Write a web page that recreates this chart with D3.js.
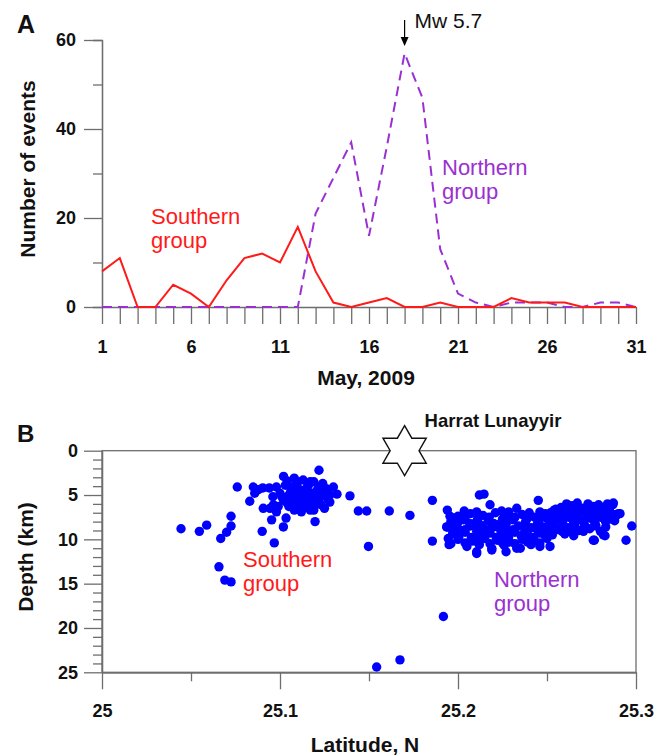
<!DOCTYPE html>
<html>
<head>
<meta charset="utf-8">
<script src="https://cdn.jsdelivr.net/npm/d3@7/dist/d3.min.js"></script>
<style>
  html, body { margin: 0; padding: 0; background: #fff; }
  svg text { font-family: "Liberation Sans", Arial, sans-serif; }
</style>
</head>
<body>
<svg id="fig" width="667" height="756"></svg>
<script>
// ---- Panel A: daily event counts, May 2009 ----
const days = d3.range(1, 32);
const southernCounts = [8, 11, 0, 0, 5, 3, 0, 6, 11, 12, 10, 18, 8, 1, 0, 1, 2, 0, 0, 1, 0, 0, 0, 2, 1, 1, 1, 0, 0, 0, 0];
const northernCounts = [0, 0, 0, 0, 0, 0, 0, 0, 0, 0, 0, 0, 21, 29, 37, 16, 36, 57, 47, 13, 3, 1, 0, 1, 1, 1, 0, 0, 1, 1, 0];
const countTicksMajor = [0, 20, 40, 60];
const countTicksMinor = [10, 30, 50];
const dayTickLabels = [1, 6, 11, 16, 21, 26, 31];
const mainShockDay = 18;
const mainShockLabel = "Mw 5.7";

// ---- Panel B: hypocentre latitude vs depth ----
const latTicksMajor = [25, 25.1, 25.2, 25.3];
const latTicksMinor = [25.05, 25.15, 25.25];
const depthTicksMajor = [0, 5, 10, 15, 20, 25];
const depthTicksMinor = d3.range(0, 26).filter(d => d % 5 !== 0);
const volcano = { lat: 25.17, depth: 0, name: "Harrat Lunayyir" };

// southern swarm (lat, depth km)
const southQuakes = [
  [25.0444, 8.8], [25.0547, 9.1], [25.0588, 8.4], [25.0725, 7.4], [25.0725, 8.5], [25.070, 9.2],
  [25.0667, 9.9], [25.0657, 13.1], [25.069, 14.6], [25.0725, 14.8], [25.076, 4.1], [25.083, 5.7],
  [25.090, 9.1], [25.0968, 10.4], [25.0953, 7.8], [25.1019, 8.6], [25.1034, 7.6], [25.1197, 8.0],
  [25.0906, 6.5], [25.0944, 6.5], [25.098, 6.9], [25.0963, 6.1], [25.085, 4.1], [25.0878, 4.4],
  [25.0858, 4.8], [25.0903, 4.2], [25.1219, 2.2], [25.1393, 5.1], [25.144, 6.8], [25.1487, 6.8],
  [25.1497, 10.8],
  [25.102, 2.9], [25.108, 3.1], [25.113, 3.3], [25.119, 3.5], [25.124, 3.7], [25.130, 4.1],
  [25.132, 4.9], [25.098, 4.1], [25.103, 3.9], [25.107, 4.1], [25.110, 4.2], [25.115, 4.2],
  [25.121, 4.4], [25.126, 4.6], [25.100, 4.8], [25.105, 5.0], [25.108, 5.2], [25.112, 5.0],
  [25.117, 5.2], [25.123, 5.2], [25.128, 5.0], [25.102, 5.6], [25.107, 5.8], [25.111, 5.8],
  [25.116, 5.9], [25.121, 5.8], [25.125, 6.5], [25.108, 6.7], [25.112, 6.9], [25.119, 6.7],
  [25.123, 6.1], [25.104, 5.9], [25.094, 4.2], [25.096, 5.2], [25.128, 5.8], [25.117, 6.7],
  [25.114, 6.3], [25.106, 4.6], [25.110, 3.5], [25.116, 3.9], [25.122, 4.1], [25.118, 4.8],
  [25.113, 5.5], [25.120, 5.4], [25.099, 6.3], [25.126, 4.3],
  [25.104, 3.4], [25.109, 3.8], [25.117, 3.5], [25.124, 4.2], [25.101, 5.2], [25.106, 5.4],
  [25.115, 4.7], [25.110, 5.5], [25.122, 4.8], [25.127, 5.5], [25.105, 6.3], [25.111, 6.3],
  [25.119, 6.2], [25.113, 4.5], [25.109, 4.7]
];

// northern swarm (lat, depth km)
const northQuakes = [
  [25.212, 5.0], [25.218, 6.1], [25.233, 6.5], [25.240, 7.0], [25.254, 6.7],
  [25.200, 7.4], [25.207, 7.1], [25.214, 7.3], [25.221, 7.0], [25.228, 7.4], [25.236, 7.2], [25.243, 7.5], [25.249, 7.1],
  [25.196, 8.0], [25.203, 7.8], [25.210, 8.1], [25.217, 7.9], [25.224, 8.2], [25.231, 7.8], [25.238, 8.0], [25.245, 8.2], [25.252, 7.9],
  [25.194, 8.6], [25.200, 8.8], [25.207, 8.5], [25.214, 8.7], [25.220, 8.6], [25.227, 8.9], [25.234, 8.5], [25.241, 8.7], [25.248, 8.6], [25.255, 8.8],
  [25.197, 9.4], [25.204, 9.2], [25.211, 9.5], [25.218, 9.3], [25.225, 9.6], [25.232, 9.2], [25.239, 9.4], [25.246, 9.3], [25.253, 9.5],
  [25.200, 10.0], [25.208, 10.2], [25.215, 9.9], [25.222, 10.1], [25.229, 10.3], [25.236, 10.0], [25.243, 10.2], [25.250, 9.9],
  [25.205, 10.8], [25.212, 10.6], [25.219, 11.0], [25.226, 10.7], [25.233, 11.0], [25.241, 10.6],
  [25.1936, 8.6], [25.1945, 9.9], [25.1955, 7.4], [25.196, 10.5], [25.2105, 11.4], [25.219, 11.2],
  [25.227, 11.4], [25.235, 11.0], [25.246, 10.8], [25.2517, 10.8],
  [25.1975, 7.6], [25.204, 7.5], [25.211, 7.7], [25.2175, 7.5], [25.225, 7.7], [25.232, 7.5], [25.239, 7.6], [25.246, 7.7],
  [25.1995, 8.3], [25.2065, 8.2], [25.213, 8.4], [25.220, 8.2], [25.227, 8.3], [25.2375, 8.4], [25.2445, 8.3], [25.251, 8.4],
  [25.197, 9.0], [25.204, 8.9], [25.2105, 9.1], [25.217, 8.9], [25.224, 9.0], [25.231, 8.9], [25.2375, 9.1], [25.2445, 8.9], [25.251, 9.1],
  [25.2005, 9.7], [25.2075, 9.8], [25.2145, 9.6], [25.2215, 9.8], [25.2285, 9.7], [25.2355, 9.6], [25.2425, 9.8], [25.249, 9.6],
  [25.204, 10.4], [25.211, 10.3], [25.218, 10.5], [25.225, 10.4], [25.232, 10.5], [25.239, 10.3], [25.246, 10.4],
  [25.2035, 6.8], [25.2105, 6.9], [25.2245, 6.8], [25.2285, 6.9], [25.246, 6.9],
  [25.258, 6.4], [25.264, 6.2], [25.270, 6.5], [25.276, 6.3], [25.282, 6.6], [25.287, 6.1],
  [25.252, 7.0], [25.257, 6.8], [25.263, 7.1], [25.269, 6.9], [25.275, 7.0], [25.281, 6.8], [25.287, 7.2],
  [25.250, 7.6], [25.256, 7.7], [25.262, 7.5], [25.268, 7.8], [25.274, 7.6], [25.280, 7.5], [25.286, 7.7], [25.290, 7.1],
  [25.253, 8.2], [25.259, 8.3], [25.265, 8.1], [25.271, 8.4], [25.277, 8.2], [25.283, 8.0],
  [25.256, 8.9], [25.262, 8.7], [25.268, 9.0], [25.274, 8.8], [25.280, 9.1],
  [25.276, 10.1], [25.2817, 9.5], [25.260, 9.4], [25.265, 9.6],
  [25.261, 6.0], [25.267, 5.9], [25.273, 6.0], [25.279, 6.1], [25.284, 6.0],
  [25.255, 6.6], [25.261, 6.7], [25.267, 6.6], [25.273, 6.7], [25.279, 6.6], [25.285, 6.7],
  [25.254, 7.3], [25.260, 7.3], [25.266, 7.4], [25.272, 7.2], [25.278, 7.3], [25.284, 7.4], [25.289, 7.3],
  [25.2525, 7.9], [25.2585, 8.0], [25.2645, 7.8], [25.2705, 8.0], [25.2765, 7.9], [25.2825, 7.8], [25.288, 7.9],
  [25.254, 8.5], [25.2595, 8.6], [25.2655, 8.5], [25.2715, 8.6], [25.2775, 8.5], [25.283, 8.6],
  [25.2585, 9.1], [25.2645, 9.2], [25.2705, 9.1]
];

// isolated events between and around the swarms (lat, depth km)
const scatteredQuakes = [
  [25.1614, 6.8], [25.173, 7.3], [25.1856, 5.6], [25.1856, 10.2], [25.194, 6.7], [25.195, 10.6],
  [25.1918, 18.7], [25.1543, 24.4], [25.1674, 23.6], [25.2146, 4.9], [25.2451, 5.6], [25.2873, 5.9],
  [25.291, 7.1], [25.2976, 8.5], [25.2944, 10.1], [25.2766, 10.1], [25.2105, 11.6], [25.2826, 9.6]
];

const RED = "#ff1a1a";
const PURPLE = "#9b30d2";
const BLUE = "#0000ff";
const AXIS = "#6e6e6e";
const INK = "#111";

const svg = d3.select("#fig");

function styleAxis(g) {
  g.select(".domain").attr("stroke", AXIS).attr("stroke-width", 1.3);
  g.selectAll(".tick line").attr("stroke", AXIS).attr("stroke-width", 1.3);
  g.selectAll(".tick text").attr("fill", INK).attr("font-size", 18).attr("font-weight", "bold");
}

// ================= Panel A =================
const xA = d3.scaleLinear().domain([1, 31]).range([102, 636]);
const yA = d3.scaleLinear().domain([0, 60]).range([307, 40]);
const gA = svg.append("g");

gA.append("g").attr("transform", "translate(102,0)")
  .call(d3.axisLeft(yA).tickValues(countTicksMinor).tickSize(9).tickFormat(""))
  .call(styleAxis);
gA.append("g").attr("transform", "translate(102,0)")
  .call(d3.axisLeft(yA).tickValues(countTicksMajor).tickSize(18).tickPadding(8).tickSizeOuter(0))
  .call(styleAxis);
gA.append("g").attr("transform", "translate(0,307)")
  .call(d3.axisBottom(xA).tickValues(days).tickSize(17).tickPadding(16).tickSizeOuter(0)
    .tickFormat(d => dayTickLabels.includes(d) ? d : ""))
  .call(styleAxis);

const lineA = (vals) => d3.line().x((d, i) => xA(days[i])).y(d => yA(d))(vals);

gA.append("path").attr("d", lineA(northernCounts))
  .attr("fill", "none").attr("stroke", PURPLE).attr("stroke-width", 2)
  .attr("stroke-dasharray", "10,6");
gA.append("path").attr("d", lineA(southernCounts))
  .attr("fill", "none").attr("stroke", RED).attr("stroke-width", 2);

// main shock arrow
const ax = xA(mainShockDay);
gA.append("line").attr("x1", ax).attr("x2", ax).attr("y1", 20).attr("y2", 38)
  .attr("stroke", "#000").attr("stroke-width", 1.2);
gA.append("path").attr("d", `M${ax - 4},37 L${ax + 4},37 L${ax},46 Z`).attr("fill", "#000");
gA.append("text").attr("x", ax + 10).attr("y", 28).attr("font-size", 21).attr("fill", INK).text(mainShockLabel);

// group labels
function twoLine(g, x, y, color, words, size, gap) {
  const t = g.append("text").attr("x", x).attr("y", y).attr("fill", color).attr("font-size", size);
  t.append("tspan").attr("x", x).attr("dy", 0).text(words[0]);
  t.append("tspan").attr("x", x).attr("dy", gap).text(words[1]);
}
twoLine(gA, 151, 224, RED, ["Southern", "group"], 22, 24);
twoLine(gA, 442, 175, PURPLE, ["Northern", "group"], 22, 23.5);

gA.append("text").attr("x", 17).attr("y", 33).attr("font-size", 25).attr("font-weight", "bold").attr("fill", INK).text("A");
gA.append("text").attr("transform", "translate(35,169) rotate(-90)").attr("text-anchor", "middle")
  .attr("font-size", 21).attr("font-weight", "bold").attr("fill", INK).text("Number of events");
gA.append("text").attr("x", 366).attr("y", 385).attr("text-anchor", "middle")
  .attr("font-size", 21).attr("font-weight", "bold").attr("fill", INK).text("May, 2009");

// ================= Panel B =================
const xB = d3.scaleLinear().domain([25, 25.3]).range([102, 636]);
const yB = d3.scaleLinear().domain([0, 25]).range([450.7, 672.3]);
const gB = svg.append("g");

gB.append("rect").attr("x", 102).attr("y", yB(0)).attr("width", 636 - 102).attr("height", yB(25) - yB(0))
  .attr("fill", "none").attr("stroke", AXIS).attr("stroke-width", 1.3);
gB.append("g").attr("transform", "translate(102,0)")
  .call(d3.axisLeft(yB).tickValues(depthTicksMinor).tickSize(9).tickFormat("").tickSizeOuter(0))
  .call(styleAxis);
gB.append("g").attr("transform", "translate(102,0)")
  .call(d3.axisLeft(yB).tickValues(depthTicksMajor).tickSize(18).tickPadding(6).tickSizeOuter(0))
  .call(styleAxis);
gB.append("g").attr("transform", `translate(0,${yB(25)})`)
  .call(d3.axisBottom(xB).tickValues(latTicksMinor).tickSize(9).tickFormat("").tickSizeOuter(0))
  .call(styleAxis);
gB.append("g").attr("transform", `translate(0,${yB(25)})`)
  .call(d3.axisBottom(xB).tickValues(latTicksMajor).tickSize(17).tickPadding(15).tickSizeOuter(0)
    .tickFormat(d => d === 25 ? "25" : d3.format(".1f")(d)))
  .call(styleAxis);

const allQuakes = southQuakes.concat(northQuakes, scatteredQuakes);
gB.append("g").selectAll("circle").data(allQuakes).join("circle")
  .attr("cx", d => xB(d[0])).attr("cy", d => yB(d[1])).attr("r", 4.7).attr("fill", BLUE);

// volcano symbol: six-pointed star
const sx = xB(volcano.lat), sy = yB(volcano.depth), R = 25, r = R / Math.sqrt(3);
const starPts = d3.range(12).map(i => {
  const a = -Math.PI / 2 + i * Math.PI / 6;
  const rad = i % 2 === 0 ? R : r;
  return [sx + rad * Math.cos(a), sy + rad * Math.sin(a)];
});
gB.append("path").attr("d", d3.line()(starPts) + "Z")
  .attr("fill", "#fff").attr("stroke", INK).attr("stroke-width", 1.4);
gB.append("text").attr("x", sx + 20).attr("y", 427).attr("font-size", 18.5).attr("font-weight", "bold")
  .attr("fill", INK).text(volcano.name);

twoLine(gB, 243, 567, RED, ["Southern", "group"], 22, 23.5);
twoLine(gB, 494, 587, PURPLE, ["Northern", "group"], 22, 23.5);

gB.append("text").attr("x", 17).attr("y", 442).attr("font-size", 24).attr("font-weight", "bold").attr("fill", INK).text("B");
gB.append("text").attr("transform", "translate(33,557) rotate(-90)").attr("text-anchor", "middle")
  .attr("font-size", 21).attr("font-weight", "bold").attr("fill", INK).text("Depth (km)");
gB.append("text").attr("x", 365).attr("y", 752).attr("text-anchor", "middle")
  .attr("font-size", 21).attr("font-weight", "bold").attr("fill", INK).text("Latitude, N");
</script>
</body>
</html>
